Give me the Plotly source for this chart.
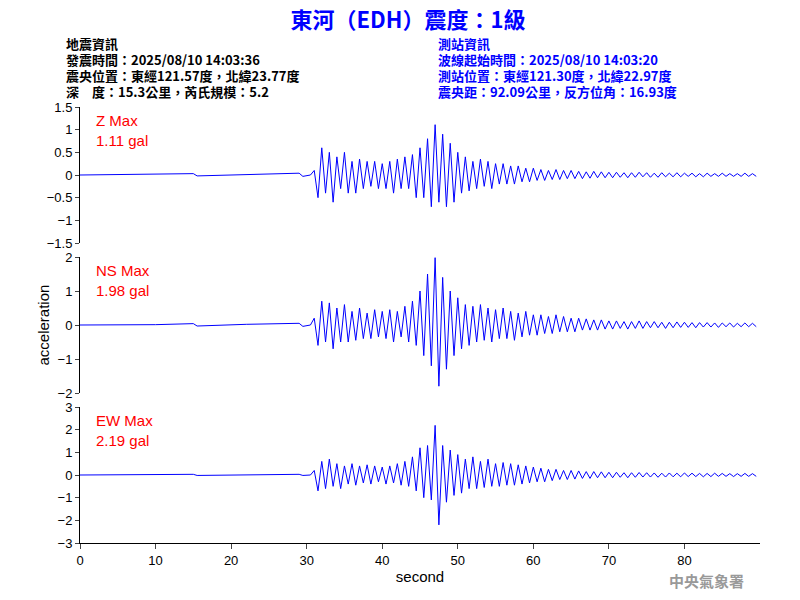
import numpy as np
import plotly.graph_objects as go
from plotly.subplots import make_subplots

# quiet part before the P arrival
t_pre = [0, 10, 15, 15.5, 22, 29, 29.5, 30.5]
z_pre = [0, 0.01, 0.03, -0.02, 0.01, 0.04, -0.03, 0.0]
ns_pre = [0, 0.01, 0.04, -0.03, 0.02, 0.05, -0.04, 0.0]
ew_pre = [0, 0.01, 0.03, -0.02, 0.01, 0.03, -0.02, 0.0]

# sampled every 0.5 s starting at 31 s
z = [0.1, -0.5, 0.6, -0.4, 0.5, -0.6, 0.4, -0.3, 0.5, -0.4,
     0.3, -0.4, 0.35, -0.3, 0.3, -0.25, 0.3, -0.3, 0.25, -0.3,
     0.3, -0.4, 0.35, -0.3, 0.4, -0.3, 0.45, -0.5, 0.6, -0.5,
     0.8, -0.7, 1.11, -0.6, 0.9, -0.7, 0.7, -0.6, 0.5, -0.4,
     0.4, -0.35, 0.3, -0.3, 0.35, -0.25, 0.3, -0.3, 0.25, -0.2,
     0.25, -0.2, 0.2, -0.2, 0.2, -0.15, 0.15, -0.15, 0.15, -0.12,
     0.12, -0.12, 0.1, -0.1, 0.12, -0.1, 0.1, -0.08, 0.1, -0.08,
     0.08, -0.08, 0.07, -0.07, 0.08, -0.06, 0.07, -0.06, 0.06, -0.06,
     0.06, -0.05, 0.05, -0.06, 0.05, -0.05, 0.06, -0.04, 0.05, -0.05,
     0.04, -0.05, 0.05, -0.04, 0.04, -0.04, 0.05, -0.04, 0.04, -0.03,
     0.04, -0.04, 0.03, -0.04, 0.04, -0.03, 0.03, -0.03, 0.04, -0.03,
     0.03, -0.03, 0.03, -0.03, 0.04, -0.03, 0.03, -0.03]
ns = [0.2, -0.6, 0.7, -0.5, 0.65, -0.7, 0.5, -0.5, 0.6, -0.5,
      0.4, -0.45, 0.5, -0.4, 0.35, -0.4, 0.45, -0.35, 0.4, -0.4,
      0.45, -0.5, 0.4, -0.35, 0.55, -0.5, 0.7, -0.6, 1.0, -0.9,
      1.5, -1.2, 1.98, -1.8, 1.4, -1.3, 1.0, -0.9, 0.8, -0.7,
      0.6, -0.6, 0.55, -0.5, 0.6, -0.45, 0.5, -0.5, 0.45, -0.4,
      0.5, -0.4, 0.4, -0.45, 0.35, -0.35, 0.4, -0.3, 0.3, -0.3,
      0.3, -0.25, 0.25, -0.25, 0.3, -0.2, 0.25, -0.2, 0.2, -0.2,
      0.2, -0.15, 0.18, -0.15, 0.15, -0.15, 0.15, -0.12, 0.12, -0.12,
      0.12, -0.1, 0.1, -0.12, 0.1, -0.1, 0.12, -0.1, 0.1, -0.08,
      0.1, -0.08, 0.08, -0.1, 0.08, -0.08, 0.09, -0.07, 0.08, -0.07,
      0.07, -0.08, 0.07, -0.06, 0.07, -0.06, 0.06, -0.07, 0.06, -0.05,
      0.06, -0.06, 0.05, -0.05, 0.06, -0.05, 0.05, -0.05]
ew = [0.2, -0.7, 0.6, -0.6, 0.7, -0.5, 0.5, -0.6, 0.4, -0.4,
      0.5, -0.45, 0.4, -0.35, 0.45, -0.4, 0.4, -0.3, 0.35, -0.4,
      0.4, -0.35, 0.5, -0.45, 0.6, -0.5, 0.8, -0.7, 1.2, -1.0,
      1.3, -1.1, 2.19, -2.2, 1.3, -1.2, 1.1, -0.9, 0.9, -0.8,
      0.7, -0.6, 0.8, -0.6, 0.6, -0.55, 0.7, -0.5, 0.5, -0.5,
      0.55, -0.45, 0.5, -0.45, 0.45, -0.4, 0.4, -0.35, 0.35, -0.3,
      0.3, -0.3, 0.25, -0.25, 0.25, -0.2, 0.2, -0.2, 0.2, -0.18,
      0.18, -0.15, 0.15, -0.15, 0.15, -0.12, 0.14, -0.12, 0.12, -0.12,
      0.12, -0.1, 0.1, -0.12, 0.1, -0.1, 0.11, -0.09, 0.1, -0.09,
      0.09, -0.1, 0.08, -0.09, 0.09, -0.08, 0.08, -0.08, 0.09, -0.07,
      0.08, -0.07, 0.07, -0.08, 0.07, -0.07, 0.08, -0.06, 0.07, -0.06,
      0.06, -0.07, 0.06, -0.06, 0.07, -0.06, 0.06, -0.06]

channels = ["Z Max", "NS Max", "EW Max"]
peaks = ["1.11 gal", "1.98 gal", "2.19 gal"]
yranges = [[-1.5, 1.5], [-2, 2], [-3, 3]]
yticks = [[-1.5, -1, -0.5, 0, 0.5, 1, 1.5], [-2, -1, 0, 1, 2], [-3, -2, -1, 0, 1, 2, 3]]

# the page body adds an 8px offset, so the figure is drawn 8px smaller
H = 436.0  # plot area height in px (107..543 on screen)
W = 680.0  # plot area width in px (80..760 on screen)


def py(pix):
    return (543 - pix) / H


def px(pix):
    return (pix - 80) / W


fig = make_subplots(rows=3, cols=1, shared_xaxes=True)
domains = [[py(243), py(107)], [py(393), py(257)], [py(543), py(407)]]
for i, (pre, sig) in enumerate([(z_pre, z), (ns_pre, ns), (ew_pre, ew)]):
    t = list(t_pre) + list(31 + 0.5 * np.arange(len(sig)))
    y = list(pre) + list(sig)
    fig.add_trace(go.Scatter(x=t, y=y, mode="lines", line=dict(color="blue", width=1),
                             showlegend=False), row=i + 1, col=1)
    fig.update_yaxes(range=yranges[i], tickvals=yticks[i], domain=domains[i],
                     showgrid=False, zeroline=False, showline=True, linecolor="black",
                     ticks="outside", ticklen=4, automargin=False, row=i + 1, col=1)
    top = domains[i][1]
    fig.add_annotation(x=px(94), y=top - 3 / H, xref="paper", yref="paper", text=channels[i],
                       showarrow=False, xanchor="left", yanchor="top",
                       font=dict(color="red", size=15, family="Arial"))
    fig.add_annotation(x=px(94), y=top - 23 / H, xref="paper", yref="paper", text=peaks[i],
                       showarrow=False, xanchor="left", yanchor="top",
                       font=dict(color="red", size=15, family="Arial"))

fig.update_xaxes(range=[0, 90], showgrid=False, zeroline=False, showline=True, automargin=False,
                 linecolor="black", ticks="outside", tickvals=[0, 10, 20, 30, 40, 50, 60, 70, 80])
fig.update_xaxes(showline=False, ticks="", row=1, col=1)
fig.update_xaxes(showline=False, ticks="", row=2, col=1)
fig.update_xaxes(title_text="second", title_font=dict(size=15), title_standoff=4, row=3, col=1)

cjk = "Noto Sans CJK TC"
title = "<b>東河（EDH）震度：1級</b>"
left = ["地震資訊", "發震時間：2025/08/10 14:03:36", "震央位置：東經121.57度，北緯23.77度",
        "深　度：15.3公里，芮氏規模：5.2"]
right = ["測站資訊", "波線起始時間：2025/08/10 14:03:20", "測站位置：東經121.30度，北緯22.97度",
         "震央距：92.09公里，反方位角：16.93度"]

for k in range(4):
    fig.add_annotation(x=px(64), y=py(43 + 16 * k), xref="paper", yref="paper",
                       text="<b>" + left[k] + "</b>", showarrow=False, xanchor="left",
                       yanchor="middle", font=dict(color="black", size=13, family=cjk))
    fig.add_annotation(x=px(436), y=py(43 + 16 * k), xref="paper", yref="paper",
                       text="<b>" + right[k] + "</b>", showarrow=False, xanchor="left",
                       yanchor="middle", font=dict(color="blue", size=13, family=cjk))
fig.add_annotation(x=px(746), y=py(580), xref="paper", yref="paper", text="<b>中央氣象署</b>",
                   showarrow=False, xanchor="right", yanchor="middle",
                   font=dict(color="#999999", size=15, family=cjk))
fig.add_annotation(x=px(32), y=0.5, xref="paper", yref="paper", text="acceleration",
                   textangle=-90, showarrow=False, font=dict(size=15, color="black"))

fig.update_layout(width=792, height=592, plot_bgcolor="white", paper_bgcolor="white",
                  margin=dict(l=72, r=40, t=99, b=57, autoexpand=False),
                  title=dict(text=title, x=400 / 792, xanchor="center", y=1 - 12 / 592,
                             yanchor="middle", font=dict(color="blue", size=22, family=cjk)),
                  font=dict(family="Arial", size=13, color="black"))
fig.write_html("out.html")
